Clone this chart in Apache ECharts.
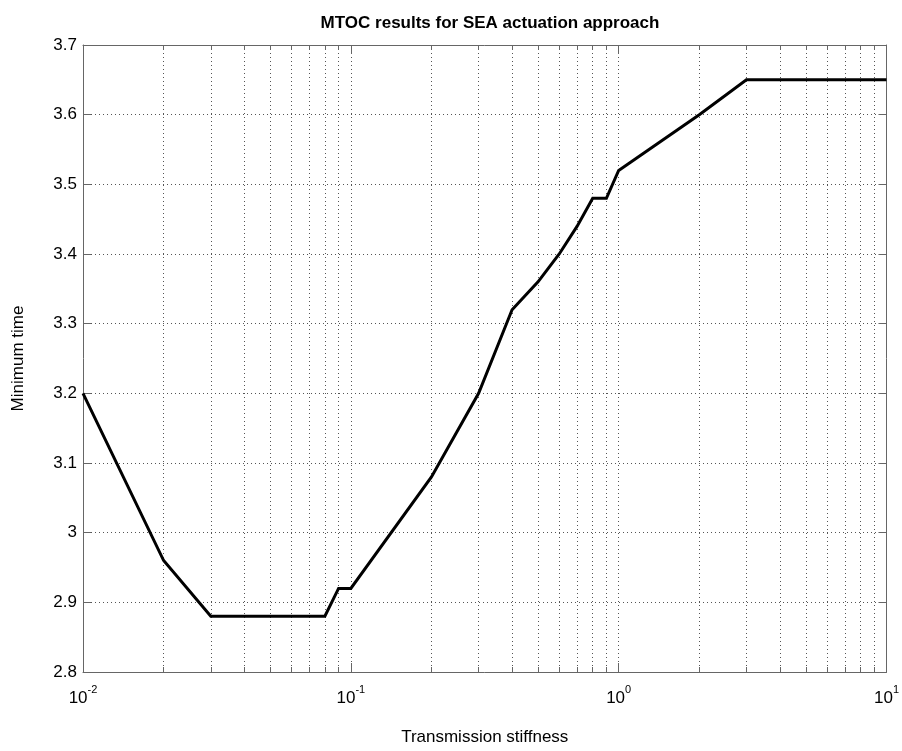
<!DOCTYPE html>
<html>
<head>
<meta charset="utf-8">
<script src="https://cdn.jsdelivr.net/npm/echarts@6/dist/echarts.min.js"></script>
<style>html,body{margin:0;padding:0;background:#fff}#c{width:902px;height:751px}</style>
</head>
<body>
<div id="c"></div>
<script>
const stiffness = [0.01, 0.02, 0.03, 0.08, 0.09, 0.1, 0.2, 0.3, 0.4, 0.5, 0.6, 0.7, 0.8, 0.9, 1, 2, 3, 10];
const minTime   = [3.2, 2.96, 2.88, 2.88, 2.92, 2.92, 3.08, 3.2, 3.32, 3.36, 3.40, 3.44, 3.48, 3.48, 3.52, 3.6, 3.65, 3.65];
const xMajorTicks = [0.01, 0.1, 1, 10];
const xAllTicks = [];
[0.01, 0.1, 1].forEach(d => { for (let k = 1; k <= 9; k++) xAllTicks.push(+(d * k).toPrecision(3)); });
xAllTicks.push(10);
const yTicks = [2.8, 2.9, 3, 3.1, 3.2, 3.3, 3.4, 3.5, 3.6, 3.7];

const FONT = '"Liberation Sans", Arial, Helvetica, sans-serif';
const AXIS_COLOR = '#666';
const GRID_DOT = { color: '#555', type: [1, 3], width: 1 };

function expLabel(v) {
  const e = Math.round(Math.log10(v));
  return '{b|10}{s|' + e + '}';
}

const chart = echarts.init(document.getElementById('c'), null, { renderer: 'canvas' });
const xCommon = {
  type: 'log', logBase: 10, min: 0.01, max: 10,
  axisLine: { show: true, lineStyle: { color: AXIS_COLOR, width: 1 } },
};
chart.setOption({
  animation: false,
  backgroundColor: '#fff',
  title: {
    text: 'MTOC results for SEA actuation approach',
    left: 485, top: 10, textAlign: 'center',
    textStyle: { fontFamily: FONT, fontSize: 17, fontWeight: 'bold', color: '#000' }
  },
  grid: { left: 83, top: 45, right: 14, bottom: 72, containLabel: false },
  xAxis: [
    Object.assign({}, xCommon, {
      position: 'bottom',
      name: 'Transmission stiffness', nameLocation: 'middle', nameGap: 57,
      nameTextStyle: { fontFamily: FONT, fontSize: 17, color: '#000' },
      axisTick: { show: true, inside: true, length: 5, customValues: xAllTicks, lineStyle: { color: AXIS_COLOR } },
      axisLabel: {
        show: true, customValues: xMajorTicks, margin: 12,
        formatter: expLabel,
        rich: {
          b: { fontFamily: FONT, fontSize: 17, color: '#000', padding: [6, 0, 0, 0] },
          s: { fontFamily: FONT, fontSize: 11, color: '#000', verticalAlign: 'top' }
        }
      },
      splitLine: { show: true, lineStyle: GRID_DOT },
      minorTick: { show: false }
    }),
    Object.assign({}, xCommon, {
      position: 'top',
      axisTick: { show: true, inside: true, length: 5, customValues: xAllTicks, lineStyle: { color: AXIS_COLOR } },
      axisLabel: { show: false },
      splitLine: { show: false }
    }),
    Object.assign({}, xCommon, {
      position: 'bottom',
      axisLine: { show: false },
      axisTick: { show: true, inside: true, length: 9, customValues: xMajorTicks, lineStyle: { color: AXIS_COLOR } },
      axisLabel: { show: false },
      splitLine: { show: false }
    }),
    Object.assign({}, xCommon, {
      position: 'top',
      axisLine: { show: false },
      axisTick: { show: true, inside: true, length: 9, customValues: xMajorTicks, lineStyle: { color: AXIS_COLOR } },
      axisLabel: { show: false },
      splitLine: { show: false }
    })
  ],
  yAxis: [
    {
      type: 'value', min: 2.8, max: 3.7, interval: 0.1, position: 'left',
      name: 'Minimum time', nameLocation: 'middle', nameGap: 56, nameRotate: 90,
      nameTextStyle: { fontFamily: FONT, fontSize: 17, color: '#000' },
      axisLine: { show: true, lineStyle: { color: AXIS_COLOR } },
      axisTick: { show: true, inside: true, length: 8, lineStyle: { color: AXIS_COLOR } },
      axisLabel: {
        margin: 6, fontFamily: FONT, fontSize: 17, color: '#000',
        formatter: v => (Math.round(v * 10) / 10).toString()
      },
      splitLine: { show: true, lineStyle: GRID_DOT }
    },
    {
      type: 'value', min: 2.8, max: 3.7, interval: 0.1, position: 'right',
      axisLine: { show: true, lineStyle: { color: AXIS_COLOR } },
      axisTick: { show: true, inside: true, length: 8, lineStyle: { color: AXIS_COLOR } },
      axisLabel: { show: false },
      splitLine: { show: false }
    }
  ],
  series: [{
    type: 'line',
    xAxisIndex: 0, yAxisIndex: 0,
    data: stiffness.map((x, i) => [x, minTime[i]]),
    showSymbol: false, symbol: 'none',
    lineStyle: { color: '#000', width: 3, join: 'miter' },
    z: 5
  }]
});
</script>
</body>
</html>
